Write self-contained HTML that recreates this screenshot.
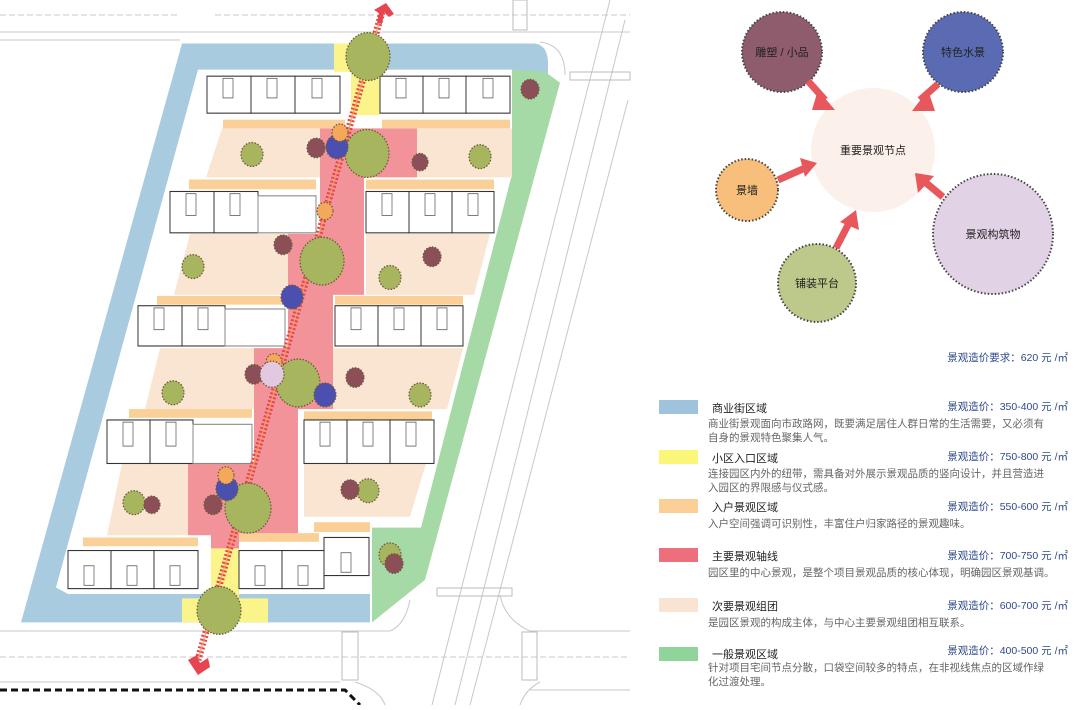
<!DOCTYPE html>
<html><head><meta charset="utf-8"><style>
html,body{margin:0;padding:0;background:#fff;}
body{width:1080px;height:705px;overflow:hidden;font-family:"Liberation Sans","Noto Sans CJK SC",sans-serif;}
</style></head><body>
<svg width="1080" height="705" viewBox="0 0 1080 705" xmlns="http://www.w3.org/2000/svg" font-family="Liberation Sans, Noto Sans CJK SC, sans-serif">
<!-- roads -->
<g stroke="#c8c8c8" stroke-width="1" fill="none">
<line x1="0" y1="15" x2="180" y2="15" stroke-dasharray="6 3"/>
<line x1="215" y1="15" x2="630" y2="15" stroke-dasharray="6 3"/>
<line x1="0" y1="32" x2="630" y2="32"/>
<line x1="0" y1="40" x2="180" y2="40"/>
<line x1="0" y1="631" x2="390" y2="631"/>
<line x1="530" y1="631" x2="630" y2="631"/>
<line x1="0" y1="657" x2="630" y2="657" stroke-dasharray="6 3"/>
<line x1="0" y1="682" x2="340" y2="682"/>
<line x1="530" y1="690" x2="630" y2="690"/>
<line x1="610" y1="0" x2="432" y2="705"/>
<line x1="628" y1="100" x2="470" y2="705"/>
<line x1="625" y1="20" x2="455" y2="705"/>
<path d="M540 42 Q565 45 565 75"/>
<path d="M390 631 Q405 625 410 600"/>
<path d="M500 595 Q505 620 530 631"/>
<path d="M355 682 Q380 690 385 705"/>
<path d="M520 705 Q525 690 540 682"/>
</g>
<g stroke="#bbb" stroke-width="1" fill="none">
<rect x="513" y="0" width="14" height="30"/>
<rect x="570" y="72" width="60" height="8"/>
<rect x="437" y="588" width="75" height="8"/>
<rect x="342" y="632" width="16" height="48"/>
<rect x="522" y="632" width="15" height="48"/>
</g>
<path d="M0 690 L345 690 L360 705" stroke="#111" stroke-width="3" stroke-dasharray="7 4" fill="none"/>

<g transform="scale(1,1.088)">
<!-- blue band -->
<path d="M182 40 L535 40 Q548 42 548 58 L548 72 L512 64 L198 64 L56 540 L68 546 L370 546 L370 572 L21 572 Z" fill="#a9cbe0"/>
<!-- green -->
<path d="M512 64 L545 66 L560 76 L425 533 L372 572 L372 485 L421 485 L512 160 Z" fill="#a5d9a5"/>
<!-- yellow -->
<rect x="334" y="40" width="17" height="26" fill="#fbf48a"/>
<rect x="351" y="62" width="29" height="44" fill="#fbf48a"/>
<rect x="211" y="504" width="28" height="48" fill="#fbf48a"/>
<rect x="182" y="550" width="86" height="22" fill="#fbf48a"/>
<!-- peach -->
<g fill="#fae5d3">
<path d="M222 118 L320 118 L320 163 L206 163 Z"/>
<path d="M417 118 L512 118 L512 163 L417 163 Z"/>
<path d="M190 215 L289 215 L289 271 L174 271 Z"/>
<path d="M366 215 L490 215 L474 271 L366 271 Z"/>
<path d="M160 320 L254 320 L254 376 L145 376 Z"/>
<path d="M333 320 L463 320 L447 376 L333 376 Z"/>
<path d="M122 426 L188 426 L188 492 L107 492 Z"/>
<path d="M304 426 L426 426 L410 475 L304 475 Z"/>
</g>
<!-- red axis area -->
<path d="M320 118 L417 118 L417 163 L364 163 L364 271 L333 271 L333 376 L298 376 L298 492 L239 492 L239 504 L211 504 L211 492 L188 492 L188 426 L254 426 L254 320 L288 320 L288 215 L320 215 Z" fill="#f2939a"/>
<!-- orange bars -->
<g fill="#fbcf98">
<rect x="223" y="110" width="122" height="8"/><rect x="382" y="110" width="128" height="8"/>
<rect x="189" y="165" width="127" height="9"/><rect x="366" y="165" width="128" height="9"/>
<rect x="157" y="272" width="128" height="8"/><rect x="335" y="272" width="128" height="8"/>
<rect x="129" y="376" width="123" height="8"/><rect x="304" y="378" width="128" height="8"/>
<rect x="83" y="494" width="115" height="8"/><rect x="314" y="480" width="56" height="9"/><rect x="239" y="490" width="80" height="8"/>
</g>
<!-- buildings -->
<g fill="#fff" stroke="#333" stroke-width="1">
<rect x="207" y="70" width="44" height="34"/><rect x="251" y="70" width="44" height="34"/><rect x="295" y="70" width="45" height="34"/>
<rect x="380" y="70" width="43" height="34"/><rect x="423" y="70" width="43" height="34"/><rect x="466" y="70" width="44" height="34"/>
<rect x="170" y="176" width="44" height="38"/><rect x="214" y="176" width="44" height="38"/><rect x="258" y="180" width="58" height="34" stroke="#888"/>
<rect x="366" y="176" width="43" height="38"/><rect x="409" y="176" width="43" height="38"/><rect x="452" y="176" width="42" height="38"/>
<rect x="138" y="281" width="44" height="37"/><rect x="182" y="281" width="43" height="37"/><rect x="225" y="284" width="60" height="34" stroke="#888"/>
<rect x="335" y="281" width="43" height="37"/><rect x="378" y="281" width="43" height="37"/><rect x="421" y="281" width="42" height="37"/>
<rect x="107" y="386" width="43" height="40"/><rect x="150" y="386" width="43" height="40"/><rect x="193" y="390" width="59" height="36" stroke="#888"/>
<rect x="304" y="386" width="43" height="40"/><rect x="347" y="386" width="43" height="40"/><rect x="390" y="386" width="44" height="40"/>
<rect x="68" y="506" width="43" height="35"/><rect x="111" y="506" width="43" height="35"/><rect x="154" y="506" width="44" height="35"/>
<rect x="239" y="506" width="43" height="35"/><rect x="282" y="506" width="42" height="35"/><rect x="324" y="494" width="45" height="35"/>
</g>
<g fill="#fff" stroke="#666" stroke-width="0.8">
<rect x="223" y="72" width="10" height="18"/><rect x="267" y="72" width="10" height="18"/><rect x="312" y="72" width="10" height="18"/>
<rect x="396" y="72" width="10" height="18"/><rect x="439" y="72" width="10" height="18"/><rect x="483" y="72" width="10" height="18"/>
<rect x="186" y="178" width="10" height="20"/><rect x="230" y="178" width="10" height="20"/>
<rect x="382" y="178" width="10" height="20"/><rect x="425" y="178" width="10" height="20"/><rect x="468" y="178" width="10" height="20"/>
<rect x="154" y="283" width="10" height="20"/><rect x="198" y="283" width="10" height="20"/>
<rect x="351" y="283" width="10" height="20"/><rect x="394" y="283" width="10" height="20"/><rect x="437" y="283" width="10" height="20"/>
<rect x="123" y="388" width="10" height="22"/><rect x="166" y="388" width="10" height="22"/>
<rect x="320" y="388" width="10" height="22"/><rect x="363" y="388" width="10" height="22"/><rect x="406" y="388" width="10" height="22"/>
<rect x="84" y="520" width="10" height="18"/><rect x="127" y="520" width="10" height="18"/><rect x="170" y="520" width="10" height="18"/>
<rect x="255" y="520" width="10" height="18"/><rect x="298" y="520" width="10" height="18"/><rect x="341" y="508" width="10" height="18"/>
</g>
</g>
<!-- axis line -->
<line x1="382" y1="12" x2="198" y2="660" stroke="#e8444f" stroke-width="7" stroke-dasharray="2 2"/>
<line x1="382" y1="12" x2="198" y2="660" stroke="#f5a35a" stroke-width="1.5" opacity="0.8"/>
<!-- circles -->
<g transform="scale(1,1.088)" stroke="#6b5a3a" stroke-width="1.2" stroke-dasharray="1.5 1.5">
<g fill="#a7b55e">
<circle cx="368" cy="52" r="22"/><circle cx="367" cy="141" r="22"/><circle cx="322" cy="240" r="22"/><circle cx="298" cy="352" r="22"/><circle cx="248" cy="467" r="23"/><circle cx="219" cy="561" r="22"/>
<circle cx="252" cy="142" r="11"/><circle cx="480" cy="144" r="11"/><circle cx="193" cy="245" r="11"/><circle cx="390" cy="255" r="11"/><circle cx="173" cy="361" r="11"/><circle cx="420" cy="363" r="11"/><circle cx="134" cy="462" r="11"/><circle cx="368" cy="451" r="11"/><circle cx="390" cy="510" r="11"/>
</g>
<g fill="#8c4f58">
<circle cx="316" cy="136" r="9"/><circle cx="420" cy="149" r="8"/><circle cx="283" cy="225" r="9"/><circle cx="432" cy="236" r="9"/><circle cx="254" cy="344" r="9"/><circle cx="355" cy="347" r="9"/><circle cx="213" cy="464" r="9"/><circle cx="152" cy="464" r="8"/><circle cx="350" cy="450" r="9"/><circle cx="530" cy="82" r="9"/><circle cx="394" cy="518" r="9"/>
</g>
<g fill="#4a4fb0"><circle cx="337" cy="135" r="11"/><circle cx="292" cy="273" r="11"/><circle cx="325" cy="363" r="11"/><circle cx="227" cy="449" r="11"/></g>
<g fill="#f5a85a"><circle cx="340" cy="122" r="8"/><circle cx="325" cy="194" r="8"/><circle cx="274" cy="333" r="8"/><circle cx="226" cy="437" r="8"/></g>
<circle cx="272" cy="344" r="12" fill="#e2c8e0"/>
</g>
<!-- arrowheads axis -->
<path d="M374 10 L386 3 L394 14 L389 17 L384 12 L382 24 L377 23 L379 13 Z" fill="#e8444f"/>
<path d="M188 660 L197 655 L200 663 L208 658 L210 667 L198 675 Z" fill="#e8444f"/>

<!-- bubble diagram -->
<g stroke="#444" stroke-width="2" stroke-dasharray="1.5 2">
<circle cx="873" cy="150" r="62" fill="#fbf0ea" stroke="none"/>
<circle cx="782" cy="52" r="40" fill="#8e5c6c"/>
<circle cx="963" cy="52" r="40" fill="#5a6bb3"/>
<circle cx="747" cy="190" r="31" fill="#f7be7c"/>
<circle cx="993" cy="234" r="60" fill="#e2d2e6"/>
<circle cx="817" cy="283" r="39" fill="#bcc98a"/>
</g>
<g stroke="#e8575c" stroke-width="7" fill="#e8575c">
<line x1="808" y1="81" x2="825" y2="100"/><line x1="938" y1="84" x2="920" y2="100"/>
<line x1="778" y1="180" x2="805" y2="168"/><line x1="943" y1="197" x2="925" y2="182"/>
<line x1="836" y1="248" x2="848" y2="225"/>
</g>
<g fill="#e8575c">
<path d="M818 90 L835 110 L812 110 Z"/><path d="M928 90 L912 111 L935 111 Z"/>
<path d="M800 158 L817 163 L805 177 Z"/><path d="M918 193 L915 173 L934 176 Z"/>
<path d="M840 222 L856 210 L859 230 Z"/>
</g>
<g font-size="11" fill="#222" text-anchor="middle">
<text x="782" y="56">雕塑 / 小品</text><text x="963" y="56">特色水景</text>
<text x="873" y="154">重要景观节点</text><text x="747" y="194">景墙</text>
<text x="993" y="238">景观构筑物</text><text x="817" y="287">铺装平台</text>
</g>
<!-- legend -->
<text x="1068" y="361" font-size="10.5" fill="#2f4a8a" text-anchor="end">景观造价要求：620 元 /㎡</text>
<g font-size="10.5">
<rect x="659" y="400" width="39" height="14" fill="#9fc3dc"/>
<text x="712" y="412" fill="#222" font-size="11">商业街区域</text>
<text x="1068" y="410" fill="#2f4a8a" text-anchor="end">景观造价：350-400 元 /㎡</text>
<text x="708" y="427" fill="#666">商业街景观面向市政路网，既要满足居住人群日常的生活需要，又必须有</text>
<text x="708" y="441" fill="#666">自身的景观特色聚集人气。</text>
<rect x="659" y="450" width="39" height="14" fill="#fbf57a"/>
<text x="712" y="462" fill="#222" font-size="11">小区入口区域</text>
<text x="1068" y="460" fill="#2f4a8a" text-anchor="end">景观造价：750-800 元 /㎡</text>
<text x="708" y="477" fill="#666">连接园区内外的纽带，需具备对外展示景观品质的竖向设计，并且营造进</text>
<text x="708" y="491" fill="#666">入园区的界限感与仪式感。</text>
<rect x="659" y="499" width="39" height="14" fill="#fbcf98"/>
<text x="712" y="511" fill="#222" font-size="11">入户景观区域</text>
<text x="1068" y="510" fill="#2f4a8a" text-anchor="end">景观造价：550-600 元 /㎡</text>
<text x="708" y="527" fill="#666">入户空间强调可识别性，丰富住户归家路径的景观趣味。</text>
<rect x="659" y="548" width="39" height="14" fill="#ee6f7c"/>
<text x="712" y="560" fill="#222" font-size="11">主要景观轴线</text>
<text x="1068" y="559" fill="#2f4a8a" text-anchor="end">景观造价：700-750 元 /㎡</text>
<text x="708" y="576" fill="#666">园区里的中心景观，是整个项目景观品质的核心体现，明确园区景观基调。</text>
<rect x="659" y="598" width="39" height="14" fill="#f9e3d3"/>
<text x="712" y="610" fill="#222" font-size="11">次要景观组团</text>
<text x="1068" y="609" fill="#2f4a8a" text-anchor="end">景观造价：600-700 元 /㎡</text>
<text x="708" y="626" fill="#666">是园区景观的构成主体，与中心主要景观组团相互联系。</text>
<rect x="659" y="647" width="39" height="14" fill="#8fd49a"/>
<text x="712" y="658" fill="#222" font-size="11">一般景观区域</text>
<text x="1068" y="654" fill="#2f4a8a" text-anchor="end">景观造价：400-500 元 /㎡</text>
<text x="708" y="671" fill="#666">针对项目宅间节点分散，口袋空间较多的特点，在非视线焦点的区域作绿</text>
<text x="708" y="685" fill="#666">化过渡处理。</text>
</g>
</svg>
</body></html>
